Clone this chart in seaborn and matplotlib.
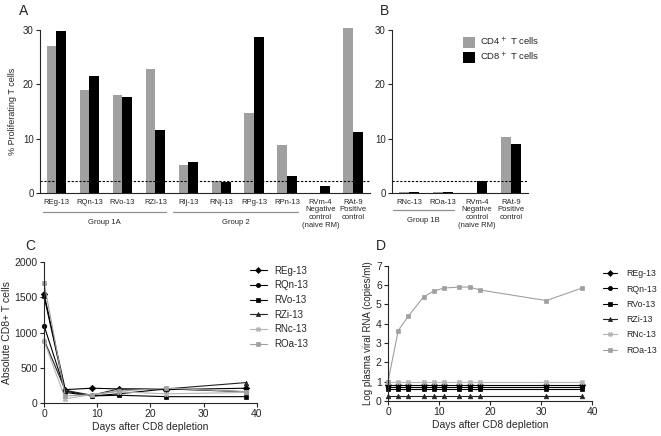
import pandas as pd
import seaborn as sns
import matplotlib.pyplot as plt
import matplotlib.transforms as mtransforms
from matplotlib.patches import Patch
from matplotlib.lines import Line2D

# panel A: % proliferating T cells
animals_a = ["REg-13", "RQn-13", "RVo-13", "RZi-13", "RIj-13", "RNj-13",
             "RPg-13", "RPn-13", "RVm-4", "RAt-9"]
cd4_a = [27.1, 19.0, 18.0, 22.9, 5.2, 2.2, 14.8, 8.8, 0.0, 30.3]
cd8_a = [29.9, 21.6, 17.7, 11.6, 5.8, 2.0, 28.7, 3.2, 1.3, 11.3]

# panel B
animals_b = ["RNc-13", "ROa-13", "RVm-4", "RAt-9"]
cd4_b = [0.15, 0.15, 0.1, 10.3]
cd8_b = [0.15, 0.15, 2.2, 9.1]
cutoff = 2.3

# panel C: absolute CD8+ T cells
days_c = [0, 4, 9, 14, 23, 38]
cells_c = {
    "REg-13": [1550, 190, 210, 200, 190, 210],
    "RQn-13": [1100, 170, 100, 130, 200, 160],
    "RVo-13": [1520, 150, 100, 110, 90, 90],
    "RZi-13": [900, 180, 110, 200, 200, 290],
    "RNc-13": [880, 60, 120, 160, 130, 150],
    "ROa-13": [1710, 100, 120, 170, 210, 160],
}

# panel D: log plasma viral RNA
days_d = [0, 2, 4, 7, 9, 11, 14, 16, 18, 31, 38]
rna_d = {
    "REg-13": [0.85] * 11,
    "RQn-13": [0.75] * 11,
    "RVo-13": [0.6] * 11,
    "RZi-13": [0.28] * 11,
    "RNc-13": [0.97] * 11,
    "ROa-13": [1.0, 3.65, 4.4, 5.4, 5.7, 5.85, 5.9, 5.9, 5.75, 5.2, 5.85],
}

names = list(cells_c.keys())
markers = {"REg-13": "D", "RQn-13": "o", "RVo-13": "s", "RZi-13": "^",
           "RNc-13": "X", "ROa-13": "s"}
colors = {"REg-13": "black", "RQn-13": "black", "RVo-13": "black",
          "RZi-13": "#222222", "RNc-13": "#b5b5b5", "ROa-13": "#a0a0a0"}
gray = "#a0a0a0"

sns.set_theme(style="ticks")
plt.rcParams['font.family'] = ['Liberation Sans', 'DejaVu Sans']
plt.rcParams['axes.linewidth'] = 0.8

fig = plt.figure(figsize=(6.61, 4.36), dpi=100)
axA = fig.add_axes([0.0605, 0.557, 0.499, 0.374])
axB = fig.add_axes([0.593, 0.557, 0.206, 0.374])
axC = fig.add_axes([0.0666, 0.0757, 0.322, 0.323])
axD = fig.add_axes([0.587, 0.0803, 0.309, 0.310])


def bar_panel(ax, animals, cd4, cd8, xlabels):
    df = pd.DataFrame({
        "animal": animals * 2,
        "pct": cd4 + cd8,
        "cell": ["CD4"] * len(animals) + ["CD8"] * len(animals),
    })
    sns.barplot(data=df, x="animal", y="pct", hue="cell", order=animals,
                hue_order=["CD4", "CD8"], palette=[gray, "black"], width=0.6,
                saturation=1, linewidth=0, legend=False, ax=ax)
    for p in ax.patches:
        p.set_clip_on(False)
    ax.axhline(cutoff, color="black", lw=0.8, ls=(0, (2, 1.5)))
    ax.set_xlim(-0.5, len(animals) - 0.5)
    ax.set_ylim(0, 30)
    ax.set_yticks([0, 10, 20, 30])
    ax.set_xticks(range(len(animals)))
    ax.set_xticklabels(xlabels, fontsize=5.5, linespacing=1.15, va="top")
    ax.tick_params(axis="x", length=0, pad=4)
    ax.tick_params(axis="y", labelsize=7, length=3, width=0.8, pad=1.5)
    ax.set_xlabel("")
    ax.set_ylabel("")
    sns.despine(ax=ax)


def group_line(ax, x0, x1, ly, label, ty):
    tr = mtransforms.blended_transform_factory(ax.transData, ax.transAxes)
    ax.plot([x0, x1], [ly, ly], color="#909090", lw=0.9, transform=tr,
            clip_on=False)
    ax.text((x0 + x1) / 2, ty, label, transform=tr, ha="center", va="center",
            fontsize=5.5)


neg = "RVm-4\nNegative\ncontrol\n(naive RM)"
pos = "RAt-9\nPositive\ncontrol"
bar_panel(axA, animals_a, cd4_a, cd8_a, animals_a[:8] + [neg, pos])
axA.set_ylabel("% Proliferating T cells", fontsize=6.5, labelpad=4)
group_line(axA, -0.41, 3.32, -0.115, "Group 1A", -0.182)
group_line(axA, 3.53, 7.32, -0.115, "Group 2", -0.182)

bar_panel(axB, animals_b, cd4_b, cd8_b, animals_b[:2] + [neg, pos])
group_line(axB, -0.47, 1.32, -0.104, "Group 1B", -0.166)
handles = [Patch(facecolor=gray, edgecolor="none"),
           Patch(facecolor="black", edgecolor="none")]
axB.legend(handles, ["CD4$^+$ T cells", "CD8$^+$ T cells"], loc="upper left",
           bbox_to_anchor=(0.48, 1.0), frameon=False, fontsize=6.8,
           handlelength=1.3, handleheight=1.3, handletextpad=0.5,
           labelspacing=0.3, borderaxespad=0.2)


def line_panel(ax, days, data, ylabel, ylim, yticks, legfs, anchor, lsp,
               hlen, hpad):
    rows = []
    for name in names:
        for d, v in zip(days, data[name]):
            rows.append({"day": d, "value": v, "animal": name})
    df = pd.DataFrame(rows)
    sns.lineplot(data=df, x="day", y="value", hue="animal", style="animal",
                 hue_order=names, style_order=names, palette=colors,
                 markers=markers, dashes=False, markersize=3.3, linewidth=0.8,
                 markeredgewidth=0.5, legend=False, clip_on=False, ax=ax)
    for ln in ax.lines:
        ln.set_markeredgecolor(ln.get_color())
    ax.set_xlim(0, 40)
    ax.set_ylim(*ylim)
    ax.set_xticks([0, 10, 20, 30, 40])
    ax.set_yticks(yticks)
    ax.tick_params(labelsize=7.5, length=3, width=0.8, pad=1.5)
    ax.set_xlabel("Days after CD8 depletion", fontsize=7.5, labelpad=2)
    ax.set_ylabel(ylabel, fontsize=7.5, labelpad=2)
    sns.despine(ax=ax)
    hs = [Line2D([], [], color=colors[n], marker=markers[n], markersize=3,
                 lw=0.8, markeredgewidth=0.5, markeredgecolor=colors[n])
          for n in names]
    ax.legend(hs, names, loc="upper left", bbox_to_anchor=anchor,
              frameon=False, fontsize=legfs, handlelength=hlen,
              handletextpad=hpad, labelspacing=lsp, borderaxespad=0,
              borderpad=0)


line_panel(axC, days_c, cells_c, "Absolute CD8+ T cells", (0, 2000),
           [0, 500, 1000, 1500, 2000], 7, (0.967, 0.975), 0.48, 1.75, 0.8)
line_panel(axD, days_d, rna_d, "Log plasma viral RNA (copies/ml)", (0, 7),
           range(0, 8), 6.3, (1.054, 0.975), 0.72, 1.6, 1.0)
axD.yaxis.label.set_size(7)

for lbl, x, y in [("A", 0.028, 0.975), ("B", 0.575, 0.975),
                  ("C", 0.038, 0.435), ("D", 0.568, 0.435)]:
    fig.text(x, y, lbl, fontsize=10, ha="left", va="center")

fig.savefig("out.png", dpi=100)
